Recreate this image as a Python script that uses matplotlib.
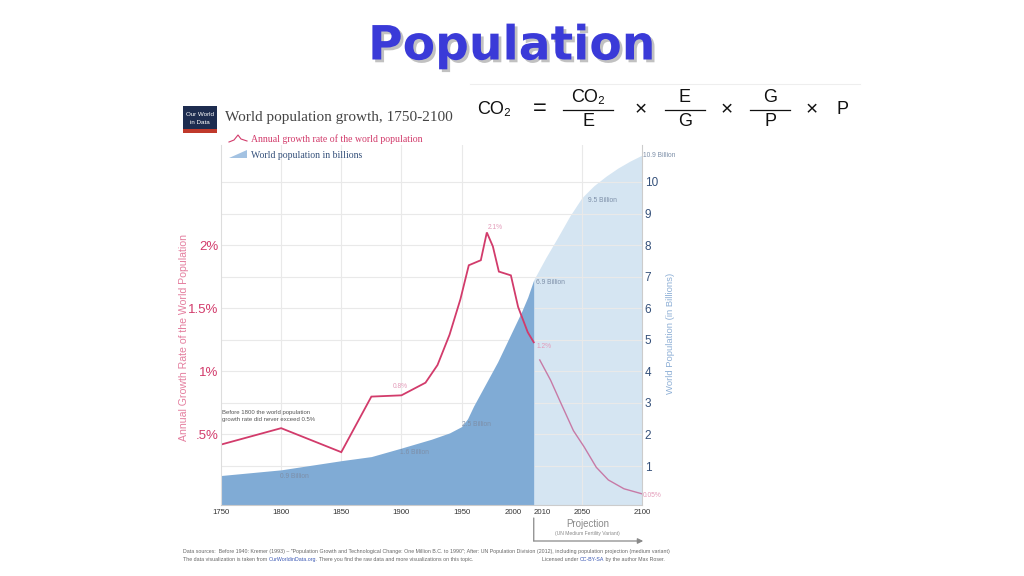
import matplotlib
matplotlib.use("Agg")
import matplotlib.pyplot as plt
from matplotlib import font_manager
from matplotlib.lines import Line2D
from matplotlib.patches import Rectangle, Polygon
from matplotlib.transforms import blended_transform_factory
import matplotlib.patheffects as pe

# ==============================
# Data
# ==============================

# Annual growth rate of the world population (%), historical
growth_years = [1750, 1800, 1850, 1875, 1900, 1920, 1930, 1940, 1949, 1956,
                1966, 1971, 1976, 1981, 1991, 1997, 2005, 2010]
growth_pct = [0.42, 0.55, 0.36, 0.80, 0.81, 0.91, 1.05, 1.29, 1.57, 1.84,
              1.88, 2.10, 1.99, 1.79, 1.76, 1.51, 1.31, 1.23]

# Annual growth rate, UN projection (%)
proj_growth_years = [2015, 2024, 2032, 2043, 2052, 2062, 2072, 2085, 2100]
proj_growth_pct = [1.09, 0.93, 0.76, 0.53, 0.40, 0.24, 0.14, 0.07, 0.03]

# World population (billions), historical
pop_years = [1750, 1800, 1850, 1875, 1900, 1925, 1940, 1950, 1955, 1960,
             1965, 1970, 1975, 1980, 1985, 1990, 1995, 2000, 2005, 2010]
pop_billions = [0.70, 0.88, 1.17, 1.30, 1.57, 1.85, 2.05, 2.25, 2.50, 2.90,
                3.25, 3.60, 3.95, 4.30, 4.70, 5.10, 5.50, 5.90, 6.35, 6.90]

# World population (billions), UN projection
proj_pop_years = [2010, 2020, 2030, 2040, 2050, 2060, 2070, 2080, 2090, 2100]
proj_pop_billions = [6.90, 7.60, 8.25, 8.92, 9.50, 9.88, 10.18, 10.44, 10.66, 10.85]

xtick_years = [1750, 1800, 1850, 1900, 1950, 2000, 2010, 2050, 2100]
grid_years = [1800, 1850, 1900, 1950, 2050]
pct_ticks = [0.5, 1.0, 1.5, 2.0]
pct_labels = [".5%", "1%", "1.5%", "2%"]
billion_ticks = [1, 2, 3, 4, 5, 6, 7, 8, 9, 10]

# ==============================
# Style
# ==============================

installed = {f.name for f in font_manager.fontManager.ttflist}
NARROW = "Liberation Sans Narrow" if "Liberation Sans Narrow" in installed else "Liberation Sans"
SERIF = "Liberation Serif"
plt.rcParams["font.family"] = [NARROW, "DejaVu Sans"]

C_LINE = "#d23b6b"
C_LINE_PROJ = "#c77aa6"
C_FILL = "#80abd5"
C_FILL_PROJ = "#d5e5f2"
C_BLUE_TXT = "#34507a"
C_NOTE = "#7d8fa8"
C_PCT_NOTE = "#e39ab8"

W, H = 1024, 576


def fx(x):
    return x / W


def fy(y):
    return 1 - y / H


fig = plt.figure(figsize=(10.24, 5.76), dpi=100)
fig.patch.set_facecolor("white")

# ==============================
# Chart
# ==============================
ax = fig.add_axes([fx(221), fy(505), 421 / W, 360 / H])
ax2 = ax.twinx()
ax.set_zorder(ax2.get_zorder() + 1)
ax.patch.set_visible(False)

B_LO, B_HI = -0.234, 11.17

ax2.fill_between(proj_pop_years, -1, proj_pop_billions, color=C_FILL_PROJ, lw=0, zorder=0.3)
ax2.fill_between(pop_years, -1, pop_billions, color=C_FILL, lw=0, zorder=1)
ax2.set_axisbelow(True)
ax2.set_yticks(billion_ticks)
ax2.grid(axis="y", color="#e9e9e9", lw=0.8)
for yr in grid_years:
    ax2.axvline(yr, color="#e9e9e9", lw=0.8, zorder=0.5)
ax2.set_ylim(B_LO, B_HI)

ax.plot(growth_years, growth_pct, color=C_LINE, lw=1.3, solid_joinstyle="miter")
ax.plot(proj_growth_years, proj_growth_pct, color=C_LINE_PROJ, lw=1.0)
ax.set_xlim(1750, 2100)
ax.set_ylim(B_LO * 0.25, B_HI * 0.25)

ax.set_xticks(xtick_years)
ax.set_yticks(pct_ticks, pct_labels)
ax.tick_params(axis="x", length=0, pad=3, labelsize=5.6, labelcolor="#333333")
ax.tick_params(axis="y", length=0, pad=2, labelsize=9.5, labelcolor=C_LINE)
ax2.tick_params(axis="y", length=0, pad=2, labelsize=8.5, labelcolor=C_BLUE_TXT)
# 2000 and 2010 sit close together: push them apart like the original
for lab in ax.get_xticklabels():
    if lab.get_text() == "2000":
        lab.set_horizontalalignment("right")
    elif lab.get_text() == "2010":
        lab.set_horizontalalignment("left")

for s in ["top", "right"]:
    ax.spines[s].set_visible(False)
ax.spines["left"].set_color("#dddddd")
ax.spines["bottom"].set_color("#cccccc")
for s in ["top", "left", "bottom"]:
    ax2.spines[s].set_visible(False)
ax2.spines["right"].set_color("#cccccc")

ax.set_ylabel("Annual Growth Rate of the World Population", family="Liberation Sans",
              fontsize=7.6, color="#e47f9f")
ax.yaxis.set_label_coords(-0.077, 0.464)
ax2.set_ylabel("World Population (in Billions)", family="Liberation Sans",
               fontsize=6.8, color="#8fb0d6", rotation=90)
ax2.yaxis.set_label_coords(1.057, 0.478)

# value notes
pop_notes = [(1799, 0.68, "0.9 Billion"), (1899, 1.44, "1.6 Billion"),
             (1950, 2.33, "2.5 Billion"), (2012, 6.80, "6.9 Billion"),
             (2055, 9.40, "9.5 Billion"), (2101, 10.85, "10.9 Billion")]
for x, y, s in pop_notes:
    ax2.text(x, y, s, fontsize=4.8, color=C_NOTE, va="center", ha="left",
             family="Liberation Sans", clip_on=False, zorder=3)

pct_notes = [(1893, 0.88, "0.8%"), (1972, 2.14, "2.1%"), (2012, 1.20, "1.2%"),
             (2101, 0.02, "0.05%")]
for x, y, s in pct_notes:
    ax.text(x, y, s, fontsize=4.8, color=C_PCT_NOTE, va="center", ha="left",
            family="Liberation Sans", clip_on=False)

ax.text(1751, 0.65, "Before 1800 the world population\ngrowth rate did never exceed 0.5%",
        fontsize=4.3, color="#555555", va="center", ha="left", linespacing=1.5)

# projection arrow
bt = blended_transform_factory(ax.transData, fig.transFigure)
ax.annotate("", xy=(2010, fy(541)), xycoords=bt, xytext=(2010, fy(518)), textcoords=bt,
            arrowprops=dict(arrowstyle="-", color="#8a8a8a", lw=0.9, shrinkA=0, shrinkB=0),
            annotation_clip=False)
ax.annotate("", xy=(2101, fy(541)), xycoords=bt, xytext=(2010, fy(541)), textcoords=bt,
            arrowprops=dict(arrowstyle="-|>", color="#8a8a8a", lw=0.9, shrinkA=0, shrinkB=0,
                            mutation_scale=8),
            annotation_clip=False)
ax.text(2055, fy(524), "Projection", transform=bt, fontsize=7, color="#8a8a8a",
        ha="center", va="center")
ax.text(2055, fy(533), "(UN Medium Fertility Variant)", transform=bt, fontsize=3.6,
        color="#8a8a8a", ha="center", va="center")

# ==============================
# Header
# ==============================
fig.text(0.5, fy(47), "Population", ha="center", va="center", fontsize=34,
         fontweight="bold", family="DejaVu Sans", color="#3a3ad8",
         path_effects=[pe.withSimplePatchShadow(offset=(2, -2), shadow_rgbFace="#999999", alpha=0.6)])

fig.add_artist(Line2D([fx(470), fx(860)], [fy(84), fy(84)], color="#eeeeee", lw=0.8))

# formula CO2 = CO2/E x E/G x G/P x P
fkw = dict(ha="center", va="center", fontsize=13, color="#111111", family=[NARROW, "DejaVu Sans"])
fig.text(fx(494), fy(110), "CO₂", **fkw)
fig.text(fx(540), fy(109), "=", **{**fkw, "fontsize": 17})
fracs = [(588, 50, "CO₂", "E"), (685, 40, "E", "G"), (770, 40, "G", "P")]
for cx, w, num, den in fracs:
    fig.text(fx(cx), fy(98), num, **fkw)
    fig.text(fx(cx), fy(122), den, **fkw)
    fig.add_artist(Line2D([fx(cx - w / 2), fx(cx + w / 2)], [fy(110), fy(110)],
                          color="#111111", lw=0.9))
for cx in [641, 727, 812]:
    fig.text(fx(cx), fy(110), "×", **{**fkw, "fontsize": 15})
fig.text(fx(843), fy(110), "P", **fkw)

# Our World in Data logo
fig.add_artist(Rectangle((fx(183), fy(133)), 34 / W, 27 / H, color="#1d2c4f", lw=0))
fig.add_artist(Rectangle((fx(183), fy(133)), 34 / W, 4 / H, color="#c0392b", lw=0))
fig.text(fx(200), fy(114), "Our World", ha="center", va="center", fontsize=4.5, color="white")
fig.text(fx(200), fy(123), "in Data", ha="center", va="center", fontsize=4.5, color="white")

fig.text(fx(225), fy(118), "World population growth, 1750-2100", ha="left", va="center",
         fontsize=11, family=SERIF, color="#444444")

# legend icons + labels
fig.add_artist(Line2D([fx(229), fx(234), fx(238), fx(241), fx(244), fx(247)],
                      [fy(142), fy(140), fy(135), fy(139), fy(140), fy(141)],
                      color=C_LINE, lw=0.8))
fig.add_artist(Polygon([(fx(229), fy(158)), (fx(247), fy(150)), (fx(247), fy(158))],
                       closed=True, color="#a3c2e2", lw=0))
fig.text(fx(251), fy(139), "Annual growth rate of the world population", ha="left",
         va="center", fontsize=7, family=SERIF, color=C_LINE)
fig.text(fx(251), fy(155), "World population in billions", ha="left",
         va="center", fontsize=7, family=SERIF, color=C_BLUE_TXT)

# ==============================
# Footer
# ==============================
foot = dict(fontsize=3.8, color="#666666", family="Liberation Sans")
fig.text(fx(183), fy(551),
         "Data sources:  Before 1940: Kremer (1993) – \"Population Growth and Technological "
         "Change: One Million B.C. to 1990\"; After: UN Population Division (2012), including "
         "population projection (medium variant)", ha="left", va="center", **foot)
t_a = fig.text(fx(183), fy(562), "The data visualization is taken from ", ha="left",
               va="bottom", **foot)
t_b = ax.annotate("OurWorldinData.org", xy=(1, 0), xycoords=t_a, ha="left", va="bottom",
                  annotation_clip=False, **{**foot, "color": "#3b58b5"})
ax.annotate(". There you find the raw data and more visualizations on this topic.",
            xy=(1, 0), xycoords=t_b, ha="left", va="bottom", annotation_clip=False, **foot)
t_c = fig.text(fx(665), fy(562), " by the author Max Roser.", ha="right", va="bottom", **foot)
t_d = ax.annotate("CC-BY-SA", xy=(0, 0), xycoords=t_c, ha="right", va="bottom",
                  annotation_clip=False, **{**foot, "color": "#3b58b5"})
ax.annotate("Licensed under ", xy=(0, 0), xycoords=t_d, ha="right", va="bottom",
            annotation_clip=False, **foot)

fig.savefig("out.png", dpi=100)
